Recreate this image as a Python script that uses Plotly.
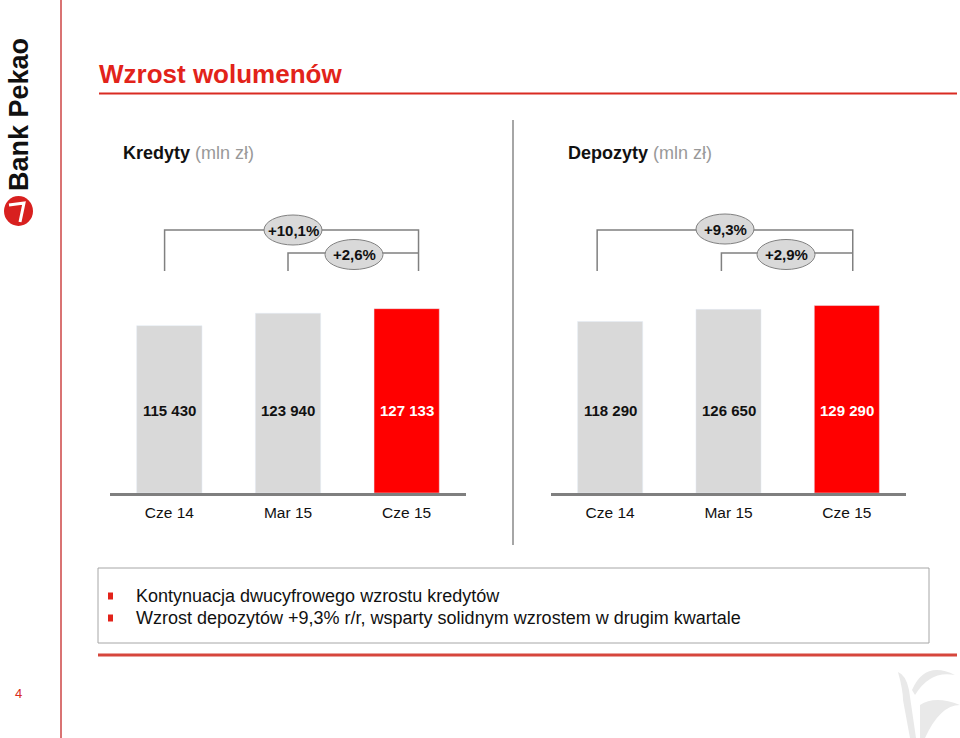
import plotly.graph_objects as go

# ---- data ----
categories = ["Cze 14", "Mar 15", "Cze 15"]
kredyty = [115430, 123940, 127133]
depozyty = [118290, 126650, 129290]
kredyty_growth = ["+10,1%", "+2,6%"]
depozyty_growth = ["+9,3%", "+2,9%"]
bar_colors = ["#d9d9d9", "#d9d9d9", "#ff0000"]
label_colors = ["#111111", "#111111", "#ffffff"]
bullets = [
    "Kontynuacja dwucyfrowego wzrostu kredytów",
    "Wzrost depozytów +9,3% r/r, wsparty solidnym wzrostem w drugim kwartale",
]

W, H = 960, 738
FONT = "Liberation Sans, Arial, sans-serif"


def px(x):
    return x / W


def py(y):
    return 1 - y / H


YMAX = 140000
LABEL_Y = 57000

fig = go.Figure()
fig.add_trace(go.Bar(x=categories, y=kredyty, marker_color=bar_colors, width=0.55,
                     xaxis="x", yaxis="y", showlegend=False, hoverinfo="skip"))
fig.add_trace(go.Bar(x=categories, y=depozyty, marker_color=bar_colors, width=0.55,
                     xaxis="x2", yaxis="y2", showlegend=False, hoverinfo="skip"))

axis_common = dict(showgrid=False, zeroline=False, showline=True, linecolor="#7f7f7f",
                   linewidth=3, ticks="outside", ticklen=3, tickcolor="rgba(0,0,0,0)",
                   tickfont=dict(family=FONT, size=15.5, color="#111111"),
                   range=[-0.5, 2.5], fixedrange=True)
yaxis_common = dict(showgrid=False, zeroline=False, showline=False, showticklabels=False,
                    range=[0, YMAX], fixedrange=True)

ydom = [py(493), py(290)]
fig.update_layout(
    width=W, height=H, margin=dict(l=0, r=0, t=0, b=0),
    paper_bgcolor="white", plot_bgcolor="rgba(0,0,0,0)",
    xaxis=dict(domain=[px(110), px(466)], anchor="y", **axis_common),
    yaxis=dict(domain=ydom, anchor="x", **yaxis_common),
    xaxis2=dict(domain=[px(551), px(906)], anchor="y2", **axis_common),
    yaxis2=dict(domain=ydom, anchor="x2", **yaxis_common),
)

shapes = []
annotations = []


def note(x, y, text, size, color, xanchor="center", weight="normal", **kw):
    annotations.append(dict(x=x, y=y, xref=kw.pop("xref", "paper"), yref=kw.pop("yref", "paper"),
                            showarrow=False, xanchor=xanchor, yanchor="middle", text=text,
                            font=dict(family=kw.pop("family", FONT), size=size, color=color,
                                      weight=weight), **kw))


# value labels inside bars
for xa, ya, vals in (("x", "y", kredyty), ("x2", "y2", depozyty)):
    for c, v, col in zip(categories, vals, label_colors):
        note(c, LABEL_Y, f"{v:,}".replace(",", " "), 15, col, weight="bold", xref=xa, yref=ya)

# growth brackets
GRAY = "#808080"


def bracket(xref, xl, xm, xr, growth, e1c, e2c):
    shapes.append(dict(type="path", xref=xref, yref="paper",
                       path=f"M {xl},{py(271)} L {xl},{py(230)} L {xr},{py(230)} L {xr},{py(271)}",
                       line=dict(color=GRAY, width=1.5)))
    shapes.append(dict(type="path", xref=xref, yref="paper",
                       path=f"M {xm},{py(271)} L {xm},{py(253)} L {xr},{py(253)}",
                       line=dict(color=GRAY, width=1.5)))
    for (cx, cy), txt in zip((e1c, e2c), growth):
        shapes.append(dict(type="circle", xref="paper", yref="paper",
                           x0=px(cx - 29), x1=px(cx + 29), y0=py(cy + 15), y1=py(cy - 15),
                           fillcolor="#d9d9d9", line=dict(color=GRAY, width=1)))
        note(px(cx), py(cy), txt, 15, "#111111", weight="bold")


bracket("x", -0.04, 1.0, 2.1, kredyty_growth, (293, 230), (354, 254.5))
bracket("x2", -0.11, 0.94, 2.05, depozyty_growth, (725, 229), (786, 254.5))

# separator between charts
shapes.append(dict(type="line", xref="paper", yref="paper", x0=px(513), x1=px(513),
                   y0=py(120), y1=py(545), line=dict(color="#a6a6a6", width=2)))

# title
note(px(97), py(74), "Wzrost wolumenów", 26, "#e2231a", xanchor="left", weight="bold")
shapes.append(dict(type="line", xref="paper", yref="paper", x0=px(99), x1=px(957),
                   y0=py(93.5), y1=py(93.5), line=dict(color="#d92b22", width=2)))

# panel subtitles
for x0, name in ((121, "Kredyty"), (566, "Depozyty")):
    note(px(x0), py(153), f"<b>{name}</b> <span style='color:#999999'>(mln zł)</span>",
         18, "#111111", xanchor="left")

# left red vertical rule
shapes.append(dict(type="line", xref="paper", yref="paper", x0=px(61), x1=px(61),
                   y0=0, y1=1, line=dict(color="#cc4444", width=1.5)))

# logo
note(px(19), py(115), "Bank Pekao", 27, "#111111", weight="bold", textangle=-90)
shapes.append(dict(type="circle", xref="paper", yref="paper",
                   x0=px(4), x1=px(33), y0=py(226), y1=py(196),
                   fillcolor="#d8201f", line=dict(width=0)))
shapes.append(dict(type="path", xref="paper", yref="paper",
                   path=f"M {px(9)},{py(205)} L {px(24)},{py(203)} L {px(20)},{py(222)}",
                   line=dict(color="white", width=3)))

# page number
note(px(18), py(693), "4", 13, "#d92b22")

# comment box
shapes.append(dict(type="rect", xref="paper", yref="paper", x0=px(98), x1=px(929),
                   y0=py(643), y1=py(568), fillcolor="white",
                   line=dict(color="#a6a6a6", width=1)))
for i, txt in enumerate(bullets):
    yc = 596 + 22 * i
    shapes.append(dict(type="rect", xref="paper", yref="paper", x0=px(108), x1=px(113),
                       y0=py(yc + 3.5), y1=py(yc - 3.5), fillcolor="#e2231a",
                       line=dict(width=0)))
    note(px(134), py(yc), txt, 18, "#111111", xanchor="left")

# bottom red rule
shapes.append(dict(type="line", xref="paper", yref="paper", x0=px(98), x1=px(957),
                   y0=py(655), y1=py(655), line=dict(color="#d6463c", width=3)))

# watermark swirl (bottom right)
WM = "#e9e9e9"
shapes.append(dict(type="path", xref="paper", yref="paper",
                   path=(f"M {px(898)},{py(672)} Q {px(903)},{py(690)} {px(903)},{py(700)} "
                         f"L {px(910)},{py(738)} L {px(916)},{py(738)} L {px(909)},{py(690)} "
                         f"Q {px(906)},{py(675)} {px(898)},{py(672)} Z"),
                   fillcolor=WM, line=dict(width=0)))
shapes.append(dict(type="path", xref="paper", yref="paper",
                   path=(f"M {px(912)},{py(690)} Q {px(925)},{py(660)} {px(955)},{py(675)} "
                         f"Q {px(930)},{py(670)} {px(915)},{py(695)} Z"),
                   fillcolor=WM, line=dict(width=0)))
shapes.append(dict(type="path", xref="paper", yref="paper",
                   path=(f"M {px(920)},{py(705)} Q {px(935)},{py(695)} {px(960)},{py(705)} "
                         f"Q {px(940)},{py(705)} {px(925)},{py(738)} L {px(920)},{py(738)} Z"),
                   fillcolor=WM, line=dict(width=0)))

fig.update_layout(shapes=shapes, annotations=annotations)
fig.write_html("out.html")
